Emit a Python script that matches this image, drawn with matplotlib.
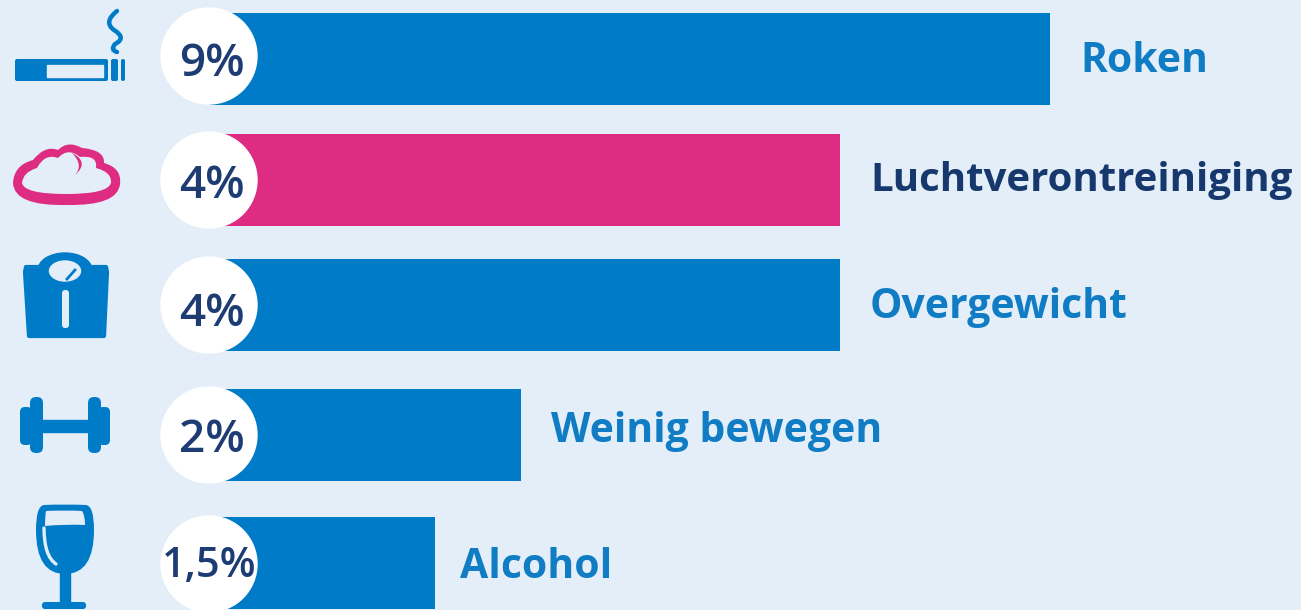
import matplotlib.pyplot as plt
from matplotlib.patches import Circle, Ellipse, FancyBboxPatch, PathPatch, Polygon
from matplotlib.path import Path

# bar lengths are read off the picture, the graphic is not to scale with the percentages
categories = ['Roken', 'Luchtverontreiniging', 'Overgewicht', 'Weinig bewegen', 'Alcohol']
pct_labels = ['9%', '4%', '4%', '2%', '1,5%']
bar_lengths = [840, 630, 630, 311, 225]
bar_colors = ['#007BC7', '#DE2C82', '#007BC7', '#007BC7', '#007BC7']
label_colors = ['#0F7CC4', '#17386C', '#0F7CC4', '#0F7CC4', '#0F7CC4']

BG = '#E3EEF8'
BLUE = '#007BC7'
PINK = '#DE2C82'
DARK = '#1D3C74'

plt.rcParams['font.family'] = ['Open Sans', 'DejaVu Sans']

fig = plt.figure(figsize=(13.01, 6.10), dpi=100, facecolor=BG)
ax = fig.add_axes([0, 0, 1, 1])
ax.set_xlim(0, 1301)
ax.set_ylim(610, 0)
ax.axis('off')

y_pos = [59, 180, 305, 435, 563]
circle_y = [56, 180, 305, 435, 564]
pct_y = [65, 187, 314, 440, 566]
label_y = [62, 180, 308, 432, 568]
label_gap = [30, 30, 30, 30, 25]
label_size = [29.4, 29, 29.4, 29.4, 29.4]
bar_left = 210

ax.barh(y_pos, bar_lengths, left=bar_left, height=92, color=bar_colors, zorder=2)

for i in range(len(categories)):
    ax.add_patch(Circle((209, circle_y[i]), 48, color='white', zorder=3))
    size = 30 if i == 4 else 33
    ax.text(212 if i < 4 else 209, pct_y[i], pct_labels[i], fontsize=size, fontweight='semibold',
            color=DARK, ha='center', va='center', zorder=4)
    ax.text(bar_left + bar_lengths[i] + label_gap[i], label_y[i], categories[i], fontsize=label_size[i],
            fontweight='bold', color=label_colors[i], ha='left', va='center', zorder=4)


def rbox(x0, y0, x1, y1, r, color, z=3):
    ax.add_patch(FancyBboxPatch((x0 + r, y0 + r), x1 - x0 - 2 * r, y1 - y0 - 2 * r,
                                boxstyle='round,pad=%f,rounding_size=%f' % (r, r),
                                fc=color, ec='none', zorder=z))


def curve(points, lw, color, z=3):
    codes = [Path.MOVETO] + [Path.CURVE3] * (len(points) - 1)
    ax.add_patch(PathPatch(Path(points, codes), fc='none', ec=color, lw=lw,
                           capstyle='round', zorder=z))


def blob(points, color, z=3):
    # closed shape made of quadratic pieces
    codes = [Path.MOVETO] + [Path.CURVE3] * (len(points) - 1)
    ax.add_patch(PathPatch(Path(points, codes), fc=color, ec='none', zorder=z))


# cigarette
rbox(15, 59, 108, 81, 2, BLUE)
ax.fill([47, 103, 103, 47], [65, 65, 77, 77], color=BG, zorder=4)
rbox(111, 59, 118, 81, 2, BLUE)
rbox(121, 59, 125, 81, 2, BLUE)
curve([(117, 11), (103, 22), (114, 30), (127, 38), (115, 44), (110, 50), (117, 52)], 3.2, BLUE)

# cloud
blob([(13, 183), (14, 165), (33, 160), (45, 145), (58, 150), (68, 140), (82, 148),
      (105, 150), (104, 163), (122, 168), (120, 184), (118, 206), (66, 205),
      (14, 206), (13, 183)], PINK)
blob([(22, 183), (23, 172), (37, 168), (45, 153), (58, 158), (68, 147), (80, 157),
      (98, 155), (96, 168), (112, 172), (111, 183), (108, 194), (66, 194),
      (24, 194), (22, 183)], BG, z=4)
blob([(75, 175), (84, 165), (72, 153), (90, 162), (75, 175)], PINK, z=5)

# scale
ax.add_patch(Ellipse((65, 270), 54, 34, color=BLUE, zorder=3))
ax.add_patch(Polygon([(26, 267), (106, 267), (107, 272), (104, 336), (29, 336), (25, 272)],
                     closed=True, fc=BLUE, ec=BLUE, lw=3, joinstyle='round', zorder=3))
ax.add_patch(Ellipse((65, 271), 31, 20, color=BG, zorder=4))
ax.plot([67, 75], [279, 270], color=BLUE, lw=2, zorder=5)
rbox(62, 290, 69, 328, 3, BG, z=4)

# dumbbell
ax.fill([40, 90, 90, 40], [420, 420, 432, 432], color=BLUE, zorder=3)
rbox(30, 397, 43, 453, 6, BLUE)
rbox(88, 397, 101, 453, 6, BLUE)
rbox(20, 407, 32, 445, 5, BLUE)
rbox(98, 407, 110, 445, 5, BLUE)

# wine glass
blob([(44, 505), (65, 504), (86, 505), (94, 506), (94, 530), (94, 574), (65, 574),
      (36, 574), (36, 530), (36, 506), (44, 505)], BLUE)
blob([(46, 511), (65, 510), (82, 511), (85, 515), (85, 525), (65, 524), (45, 526),
      (45, 516), (46, 511)], BG, z=4)
curve([(44, 528), (44, 556), (56, 564)], 2.4, BG, z=4)
ax.fill([60, 70, 70, 60], [570, 570, 604, 604], color=BLUE, zorder=3)
rbox(42, 602, 86, 609, 3, BLUE)

fig.savefig('out.png', dpi=100, facecolor=BG)
